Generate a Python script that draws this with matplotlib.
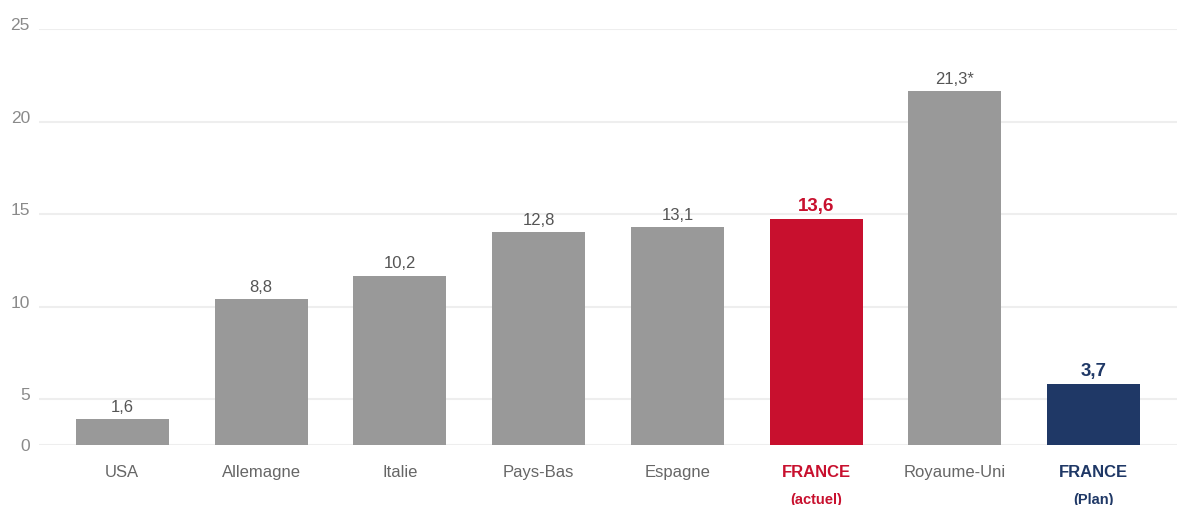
import numpy as np
import matplotlib.pyplot as plt
from matplotlib.transforms import ScaledTranslation

plt.rcParams['font.family'] = ['Liberation Sans', 'DejaVu Sans']

# data
countries = ["USA", "Allemagne", "Italie", "Pays-Bas", "Espagne", "FRANCE", "Royaume-Uni", "FRANCE"]
sub_labels = ["", "", "", "", "", "(actuel)", "", "(Plan)"]
values = [1.6, 8.8, 10.2, 12.8, 13.1, 13.6, 21.3, 3.7]
value_text = ["1,6", "8,8", "10,2", "12,8", "13,1", "13,6", "21,3*", "3,7"]
tick_labels = ["0", "5", "10", "15", "20", "25"]

GRAY = "#999999"
RED = "#c8102e"
NAVY = "#1f3866"
colors = [GRAY] * 5 + [RED, GRAY, NAVY]
highlight = {5: RED, 7: NAVY}


def main():
    fig = plt.figure(figsize=(11.77, 5.05), dpi=100)
    ax = fig.add_axes([39 / 1177, 59.7 / 505, 1 - 39 / 1177, 416 / 505])

    x = np.arange(len(countries))
    ax.bar(x, values, width=0.67, color=colors, zorder=3)
    ax.set_xlim(-0.60, 7.60)
    ax.set_ylim(0, 25)

    # the gridlines in the original are spaced evenly from the top, not at the labelled values
    grid_pos = [0] + [25 - k * 25 / 4.5 for k in range(4, -1, -1)]
    ax.set_yticks(grid_pos)
    ax.set_yticklabels(tick_labels)
    ax.grid(axis='y', color='#eeeeee', linewidth=1.5, zorder=0)
    ax.tick_params(axis='y', length=0, pad=6.5, labelsize=12.5, labelcolor='#8a8a8a')
    for i, tick in enumerate(ax.yaxis.get_major_ticks()):
        if i > 0:
            tick.label1.set_transform(tick.label1.get_transform()
                                      + ScaledTranslation(0, 5 / 100, fig.dpi_scale_trans))

    ax.set_xticks(x)
    ax.set_xticklabels(countries)
    ax.tick_params(axis='x', length=0, pad=14, labelsize=12, labelcolor='#666666')
    for i, lab in enumerate(ax.get_xticklabels()):
        if i in highlight:
            lab.set_color(highlight[i])
            lab.set_fontweight('bold')

    for i, sub in enumerate(sub_labels):
        if sub:
            ax.annotate(sub, (x[i], 0), xycoords=('data', 'axes fraction'),
                        xytext=(0, -39.5), textcoords='offset points',
                        ha='center', va='center', fontsize=10.5, fontweight='bold',
                        color=highlight[i])

    for i, (v, t) in enumerate(zip(values, value_text)):
        if i in highlight:
            ax.annotate(t, (x[i], v), xytext=(0, 3), textcoords='offset points',
                        ha='center', va='bottom', fontsize=13.5, fontweight='bold',
                        color=highlight[i])
        else:
            ax.annotate(t, (x[i], v), xytext=(0, 3), textcoords='offset points',
                        ha='center', va='bottom', fontsize=12, color='#555555')

    for s in ax.spines.values():
        s.set_visible(False)

    fig.savefig("out.png", dpi=100)


if __name__ == "__main__":
    main()
